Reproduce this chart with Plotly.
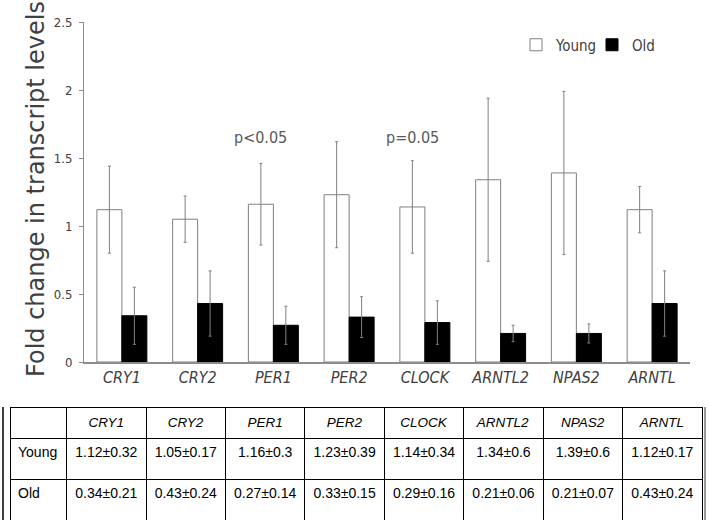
import plotly.graph_objects as go

genes = ["CRY1", "CRY2", "PER1", "PER2", "CLOCK", "ARNTL2", "NPAS2", "ARNTL"]
young = [1.12, 1.05, 1.16, 1.23, 1.14, 1.34, 1.39, 1.12]
young_sd = [0.32, 0.17, 0.3, 0.39, 0.34, 0.6, 0.6, 0.17]
old = [0.34, 0.43, 0.27, 0.33, 0.29, 0.21, 0.21, 0.43]
old_sd = [0.21, 0.24, 0.14, 0.15, 0.16, 0.06, 0.07, 0.24]
y_ticks = [0, 0.5, 1, 1.5, 2, 2.5]
y_ticktext = ["0", "0.5", "1", "1.5", "2", "2.5"]
pvals = [("PER1", "p<0.05"), ("CLOCK", "p=0.05")]

W, H = 709, 520
NARROW = "Liberation Sans Narrow, DejaVu Sans Condensed, Arial Narrow, sans-serif"
TXT = "#404040"

fig = go.Figure()
fig.add_trace(go.Bar(
    x=genes, y=young, name="Young",
    marker=dict(color="white", line=dict(color="#7f7f7f", width=1)),
    error_y=dict(type="data", array=young_sd, visible=True, color="#808080", thickness=1, width=1.5),
))
fig.add_trace(go.Bar(
    x=genes, y=old, name="Old",
    marker=dict(color="black", line=dict(color="black", width=1)),
    error_y=dict(type="data", array=old_sd, visible=True, color="#808080", thickness=1, width=1.5),
))

# table
def fmt(v, s):
    return f"{v}\u00b1{s}"

header_vals = [""] + [f"<i>{g}</i>" for g in genes]
col_first = ["Young", "Old"]
cols = [col_first] + [[fmt(young[i], young_sd[i]), fmt(old[i], old_sd[i])] for i in range(len(genes))]

fig.add_trace(go.Table(
    domain=dict(x=[10 / W, 702 / W], y=[0.0, 1 - 407 / H]),
    columnwidth=[57] + [80] * 8,
    header=dict(values=header_vals, height=21, align="center",
                line=dict(color="black", width=1), fill=dict(color="white"),
                font=dict(family="Liberation Sans, Arial, sans-serif", size=13.5, color="black")),
    cells=dict(values=cols, height=41, align=["left"] + ["center"] * 8,
               line=dict(color="black", width=1), fill=dict(color="white"),
               font=dict(family="Liberation Sans, Arial, sans-serif", size=14, color="black")),
))

annotations = []
for g, t in pvals:
    annotations.append(dict(x=g, y=1.65, xref="x", yref="y", text=t, showarrow=False,
                            xshift=-12.6, font=dict(family=NARROW, size=16, color="#595959")))
annotations.append(dict(x=36 / W, y=1 - 189 / H, xref="paper", yref="paper",
                        xanchor="center", yanchor="middle",
                        text="Fold change in transcript levels", textangle=-90, showarrow=False,
                        font=dict(family="DejaVu Sans, sans-serif", size=24, color=TXT)))

fig.update_layout(
    width=W, height=H, margin=dict(l=0, r=0, t=0, b=0, autoexpand=False),
    paper_bgcolor="white", plot_bgcolor="white",
    barmode="group", bargap=0.34, bargroupgap=0,
    showlegend=True,
    legend=dict(orientation="h", x=516 / W, y=1 - 45 / H, xanchor="left", yanchor="middle",
                font=dict(family=NARROW, size=15, color=TXT), bgcolor="rgba(0,0,0,0)",
                entrywidth=31, entrywidthmode="pixels"),
    xaxis=dict(domain=[84 / W, 690 / W], showline=True, linecolor="#8c8c8c", linewidth=1.5,
               ticks="", showgrid=False, zeroline=False, automargin=False,
               tickfont=dict(family=NARROW, size=16, color=TXT, style="italic")),
    yaxis=dict(domain=[1 - 362 / H, 1 - 22 / H], range=[0, 2.5], tickvals=y_ticks, ticktext=y_ticktext,
               showline=True, linecolor="#8c8c8c", linewidth=1, ticks="outside", ticklen=4,
               tickcolor="#8c8c8c", showgrid=False, zeroline=False, automargin=False,
               ticklabelstandoff=4,
               tickfont=dict(family=NARROW, size=13, color=TXT)),
    annotations=annotations,
    shapes=[
        dict(type="line", xref="paper", yref="paper", x0=3 / W, x1=3 / W, y0=0, y1=1 - 407 / H,
             line=dict(color="black", width=1.5)),
        dict(type="line", xref="paper", yref="paper", x0=705 / W, x1=705 / W, y0=0, y1=1 - 407 / H,
             line=dict(color="#777777", width=1.5)),
    ],
)

fig.write_html("out.html", config={"displayModeBar": False},
               post_script="document.body.style.margin='0';document.body.style.overflow='hidden';")
